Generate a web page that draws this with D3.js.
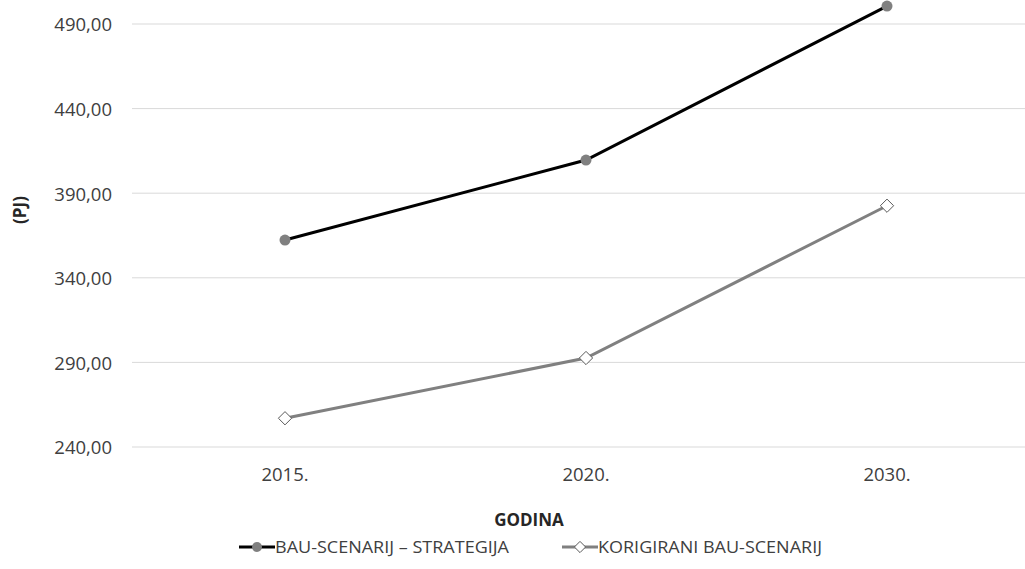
<!DOCTYPE html>
<html>
<head>
<meta charset="utf-8">
<script src="https://cdn.jsdelivr.net/npm/d3@7"></script>
<style>
  body { margin: 0; background: #fff; }
  text { font-family: "Open Sans", "Noto Sans", sans-serif; }
</style>
</head>
<body>
<div id="chart"></div>
<script>
const years = ["2015.", "2020.", "2030."];
const bauStrategija = [362.3, 409.6, 500.6];
const korigirani = [257.0, 292.6, 382.6];
const yTicks = [240, 290, 340, 390, 440, 490];
const seriesNames = ["BAU-SCENARIJ – STRATEGIJA", "KORIGIRANI BAU-SCENARIJ"];

const width = 1025, height = 569;
const svg = d3.select("#chart").append("svg")
  .attr("width", width).attr("height", height);

const x = d3.scalePoint().domain(years).range([285, 887]);
const y = d3.scaleLinear().domain([240, 490]).range([447, 24]);

// gridlines
svg.append("g")
  .selectAll("line")
  .data(yTicks)
  .join("line")
  .attr("x1", 132).attr("x2", 1040)
  .attr("y1", d => y(d)).attr("y2", d => y(d))
  .attr("stroke", "#d9d9d9").attr("stroke-width", 1);

const fmt = d => d.toFixed(2).replace(".", ",");

// y axis labels
svg.append("g")
  .selectAll("text")
  .data(yTicks)
  .join("text")
  .attr("x", 112).attr("y", d => y(d) + 1)
  .attr("dy", "0.35em")
  .attr("text-anchor", "end")
  .attr("font-size", "18.5px")
  .attr("fill", "#404040")
  .text(fmt);

// x axis labels
svg.append("g")
  .selectAll("text")
  .data(years)
  .join("text")
  .attr("x", d => x(d)).attr("y", 475)
  .attr("dy", "0.35em")
  .attr("text-anchor", "middle")
  .attr("font-size", "18.5px")
  .attr("fill", "#404040")
  .text(d => d);

// axis titles
svg.append("text")
  .attr("x", 529).attr("y", 520).attr("dy", "0.35em")
  .attr("text-anchor", "middle")
  .attr("font-size", "17px").attr("font-weight", "bold")
  .attr("fill", "#262626")
  .text("GODINA");

svg.append("text")
  .attr("transform", "translate(20,210) rotate(-90)")
  .attr("dy", "0.35em")
  .attr("text-anchor", "middle")
  .attr("font-size", "17px").attr("font-weight", "bold")
  .attr("fill", "#262626")
  .text("(PJ)");

const line = d3.line().x(d => x(d[0])).y(d => y(d[1]));

const bauPts = years.map((yr, i) => [yr, bauStrategija[i]]);
const korPts = years.map((yr, i) => [yr, korigirani[i]]);

svg.append("path").datum(bauPts)
  .attr("d", line).attr("fill", "none")
  .attr("stroke", "#000").attr("stroke-width", 3);

svg.append("path").datum(korPts)
  .attr("d", line).attr("fill", "none")
  .attr("stroke", "#808080").attr("stroke-width", 3);

svg.append("g").selectAll("circle")
  .data(bauPts).join("circle")
  .attr("cx", d => x(d[0])).attr("cy", d => y(d[1]))
  .attr("r", 5.5).attr("fill", "#808080");

const diamond = d3.symbol().type(d3.symbolDiamond2).size(112);
svg.append("g").selectAll("path")
  .data(korPts).join("path")
  .attr("d", diamond)
  .attr("transform", d => `translate(${x(d[0])},${y(d[1])})`)
  .attr("fill", "#fff").attr("stroke", "#595959").attr("stroke-width", 1);

// legend
const legend = svg.append("g");
const lg1 = legend.append("g").attr("transform", "translate(239,547)");
lg1.append("line").attr("x1", 0).attr("x2", 36).attr("stroke", "#000").attr("stroke-width", 3);
lg1.append("circle").attr("cx", 18).attr("r", 5).attr("fill", "#808080");
lg1.append("text").attr("x", 36).attr("dy", "0.35em")
  .attr("font-size", "17px").attr("fill", "#404040")
  .attr("textLength", 234).attr("lengthAdjust", "spacingAndGlyphs")
  .text(seriesNames[0]);

const lg2 = legend.append("g").attr("transform", "translate(562,547)");
lg2.append("line").attr("x1", 0).attr("x2", 36).attr("stroke", "#808080").attr("stroke-width", 3);
lg2.append("path").attr("d", d3.symbol().type(d3.symbolDiamond2).size(80))
  .attr("transform", "translate(18,0)")
  .attr("fill", "#fff").attr("stroke", "#595959").attr("stroke-width", 1);
lg2.append("text").attr("x", 36).attr("dy", "0.35em")
  .attr("font-size", "17px").attr("fill", "#404040")
  .attr("textLength", 224).attr("lengthAdjust", "spacingAndGlyphs")
  .text(seriesNames[1]);
</script>
</body>
</html>
